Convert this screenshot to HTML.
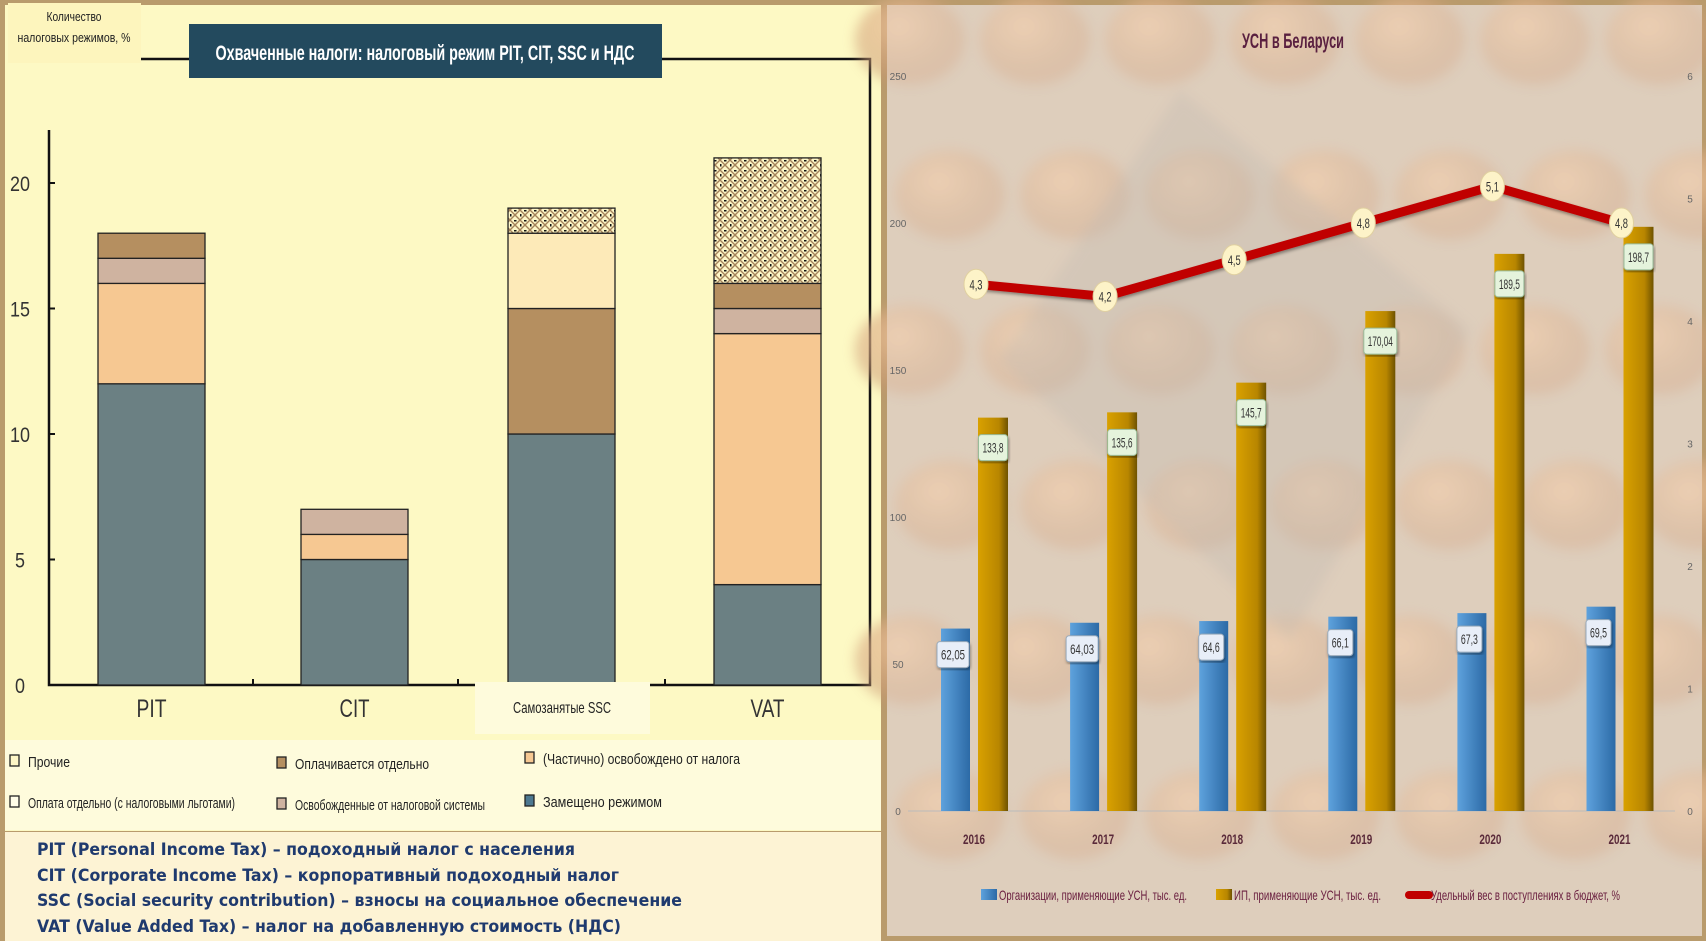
<!DOCTYPE html>
<html><head><meta charset="utf-8"><style>
html,body{margin:0;padding:0;width:1706px;height:941px;overflow:hidden;background:#b99b6c}
svg{display:block}
text{font-family:"Liberation Sans Narrow","Liberation Sans","Noto Sans CJK SC",sans-serif}
.bt{font-family:"DejaVu Sans","Liberation Sans",sans-serif;font-weight:bold;font-size:16.5px;fill:#1f3a6e}
</style></head><body>
<svg id="root" width="1706" height="941" viewBox="0 0 1706 941" xmlns="http://www.w3.org/2000/svg">
<defs>
<pattern id="hatch" width="10" height="10" patternUnits="userSpaceOnUse">
<rect width="10" height="10" fill="#fdf6c6"/>
<path d="M0 0L10 10M10 0L0 10" stroke="#a4825a" stroke-width="1.4"/>
<rect x="4" y="-1" width="2.5" height="2.5" fill="#111"/><rect x="-1" y="4" width="2.5" height="2.5" fill="#111"/>
</pattern>
<radialGradient id="bead" cx="0.4" cy="0.35" r="0.6"><stop offset="0" stop-color="#efc49a"/><stop offset="1" stop-color="#c79570" stop-opacity="0.6"/></radialGradient>
<linearGradient id="blueG" x1="0" x2="1"><stop offset="0" stop-color="#5ea2dd"/><stop offset="1" stop-color="#2c6aa6"/></linearGradient>
<linearGradient id="goldG" x1="0" x2="1"><stop offset="0" stop-color="#d9a100"/><stop offset="0.7" stop-color="#b88600"/><stop offset="1" stop-color="#6e5200"/></linearGradient>
<filter id="sh"><feDropShadow dx="1" dy="2" stdDeviation="1.5" flood-opacity="0.4"/></filter>
<filter id="blur"><feGaussianBlur stdDeviation="6"/></filter>
</defs>

<g>
<rect x="5" y="5" width="876" height="826" fill="#fdf9c4"/>
<rect x="5" y="740" width="876" height="90" fill="#fefbdc"/>
<rect x="5" y="832" width="876" height="109" fill="#fdf3d4"/>
</g>
<g id="leftChart"></g>

<g>
<rect x="887" y="5" width="815" height="931" fill="#d3c0ab"/>
<g filter="url(#blur)" opacity="0.8" id="beads"></g>
<path d="M1000 360 L1180 90 L1470 330 L1290 640 Z" fill="#a9a39b" opacity="0.35" filter="url(#blur)"/>
<rect x="887" y="5" width="815" height="931" fill="#f3e9dc" opacity="0.35"/>
</g>
<g id="rightChart"></g>

<g>
<text class="bt fn" x="37" y="855">PIT (Personal Income Tax) – подоходный налог с населения</text>
<text class="bt fn" x="37" y="881">CIT (Corporate Income Tax) – корпоративный подоходный налог</text>
<text class="bt fn" x="37" y="906">SSC (Social security contribution) – взносы на социальное обеспечение</text>
<text class="bt fn" x="37" y="932">VAT (Value Added Tax) – налог на добавленную стоимость (НДС)</text>
</g>
</svg>
<script>
const NS="http://www.w3.org/2000/svg";
function mk(p,tag,at,txt){const e=document.createElementNS(NS,tag);for(const k in at)e.setAttribute(k,at[k]);if(txt!==undefined)e.textContent=txt;p.appendChild(e);return e;}
function fit(el,w){el.setAttribute('textLength',w);el.setAttribute('lengthAdjust','spacingAndGlyphs');}

// ===== LEFT CHART DATA =====
const taxCats=["PIT","CIT","SSC","VAT"];
const segReplaced=[12,5,10,4];
const segExempt=[4,1,0,10];
const segExemptSystem=[1,1,0,1];
const segPaidSep=[1,0,5,1];
const segPaidBenefit=[0,0,3,0];
const segOther=[0,0,1,5];
const leftTicks=[0,5,10,15,20];

const L=document.getElementById('leftChart');
const ly=v=>685-v*25.1;
const lx=i=>[98,301,508,714][i];
const bw=107;
let e=mk(L,'path',{d:'M49 130 L49 685 L870 685 L870 59 L141 59',fill:'none',stroke:'#111','stroke-width':2.5});

leftTicks.forEach(t=>{
 e=mk(L,'text',{x:20,y:ly(t)+8,'font-size':21,fill:'#333','text-anchor':'middle'},String(t));
 
 fit(e,t>=10?20:10);
 mk(L,'line',{x1:49,x2:55,y1:ly(t),y2:ly(t),stroke:'#111','stroke-width':2});
});
[253,458,665].forEach(x=>mk(L,'line',{x1:x,x2:x,y1:679,y2:685,stroke:'#111','stroke-width':2}));
const segs=[[segReplaced,'#6b8083'],[segExempt,'#f6c892'],[segExemptSystem,'#cfb3a0'],[segPaidSep,'#b58f60'],[segPaidBenefit,'#fdeab8'],[segOther,'url(#hatch)']];
const segNames=['replaced','exempt','exempt-system','paid-separately','paid-with-benefits','other'];
taxCats.forEach((c,i)=>{
 let acc=0;
 segs.forEach(([arr,col],k)=>{
  const v=arr[i]; if(!v)return;
  e=mk(L,'rect',{x:lx(i),y:ly(acc+v),width:bw,height:ly(acc)-ly(acc+v),fill:col,stroke:'#222','stroke-width':1.3});
  
  acc+=v;
 });
 if(c!=="SSC"){e=mk(L,'text',{x:lx(i)+bw/2,y:717,'font-size':25,fill:'#333','text-anchor':'middle'},c);
 fit(e,c==="VAT"?34:30);}
});
e=mk(L,'rect',{x:475,y:682,width:175,height:52,fill:'#fefbdc'});
e=mk(L,'text',{x:562,y:713,'font-size':16,fill:'#222','text-anchor':'middle'},'Самозанятые SSC');
fit(e,98);
e=mk(L,'rect',{x:189,y:24,width:473,height:54,fill:'#234a5e'});

e=mk(L,'text',{x:425,y:60,'font-size':21,'font-weight':'bold',fill:'#fff','text-anchor':'middle'},'Охваченные налоги: налоговый режим PIT, CIT, SSC и НДС');
fit(e,419);
e=mk(L,'rect',{x:8,y:3,width:133,height:60,fill:'#fdf5bd'});
e=mk(L,'text',{x:74,y:21,'font-size':13,fill:'#222','text-anchor':'middle'},'Количество');
fit(e,55);
e=mk(L,'text',{x:74,y:42,'font-size':13,fill:'#222','text-anchor':'middle'},'налоговых режимов, %');fit(e,113);
const legItems=[['Прочие',10,767,'#fdf6c6',42],['Оплачивается отдельно',277,769,'#b58f60',134],['(Частично) освобождено от налога',525,764,'#f6c892',197],
['Оплата отдельно (с налоговыми льготами)',10,808,'#fffde8',207],['Освобожденные от налоговой системы',277,810,'#cfb3a0',190],['Замещено режимом',525,807,'#4d7890',119]];
legItems.forEach(([t,x,y,c,w])=>{
 e=mk(L,'g',{});
 
 mk(e,'rect',{x:x,y:y-12,width:9,height:11,fill:c,stroke:'#222','stroke-width':1.3});
 const tx=mk(e,'text',{x:x+18,y:y,'font-size':15,fill:'#222'},t);fit(tx,w);
});

const B=document.getElementById('beads');
for(let r=0;r<6;r++)for(let c=0;c<7;c++){
 const cx=910+c*125+(r%2)*40, cy=40+r*155;
 mk(B,'ellipse',{cx:cx,cy:cy,rx:55,ry:45,fill:'url(#bead)'});
}

// ===== RIGHT CHART DATA =====
const years=["2016","2017","2018","2019","2020","2021"];
const orgs=[62.05,64.03,64.6,66.1,67.3,69.5];
const ips=[133.8,135.6,145.7,170.04,189.5,198.7];
const share=[4.3,4.2,4.5,4.8,5.1,4.8];
const leftAxisTicks=[0,50,100,150,200,250];
const rightAxisTicks=[0,1,2,3,4,5,6];
const fmt=v=>String(v).replace('.',',');

const R=document.getElementById('rightChart');
const y0=811, yTop=76;
const ry=v=>y0-v/250*(y0-yTop);
const ry2=v=>y0-v/6*(y0-yTop);
const cx=i=>974+i*129.1;
leftAxisTicks.forEach(t=>{e=mk(R,'text',{x:898,y:ry(t)+4,'font-size':10,fill:'#666','text-anchor':'middle'},String(t));
 });
rightAxisTicks.forEach(t=>{e=mk(R,'text',{x:1690,y:ry2(t)+4,'font-size':10,fill:'#666','text-anchor':'middle'},String(t));
 });
mk(R,'line',{x1:908,x2:1675,y1:y0,y2:y0,stroke:'#bbb','stroke-width':1});
years.forEach((yr,i)=>{
 e=mk(R,'rect',{x:cx(i)-33,y:ry(orgs[i]),width:29,height:y0-ry(orgs[i]),fill:'url(#blueG)'});
 
 e=mk(R,'rect',{x:cx(i)+4,y:ry(ips[i]),width:30,height:y0-ry(ips[i]),fill:'url(#goldG)'});
 
 e=mk(R,'text',{x:cx(i),y:844,'font-size':14,'font-weight':'bold',fill:'#5a2a3a','text-anchor':'middle'},yr);
 fit(e,22);
 const by=ry(orgs[i])+28;
 const wb=String(orgs[i]).length>4?26:19;
 e=mk(R,'rect',{x:cx(i)-21-wb/2-3,y:by-15,width:wb+6,height:26,rx:3,fill:'#e8eef8',stroke:'#9ab',filter:'url(#sh)'});
 e=mk(R,'text',{x:cx(i)-21,y:by+3,'font-size':14,fill:'#333','text-anchor':'middle'},fmt(orgs[i]));
 fit(e,wb-2);
 const gy=ry(ips[i])+32;
 const w=String(ips[i]).length>5?27:23;
 e=mk(R,'rect',{x:cx(i)+19-w/2-3,y:gy-15,width:w+6,height:26,rx:3,fill:'#e5f3dc',stroke:'#9b9',filter:'url(#sh)'});
 e=mk(R,'text',{x:cx(i)+19,y:gy+3,'font-size':14,fill:'#333','text-anchor':'middle'},fmt(ips[i]));
 fit(e,w-2);
});
const pts=share.map((v,i)=>(cx(i)+2)+','+ry2(v)).join(' ');
e=mk(R,'polyline',{points:pts,fill:'none',stroke:'#c00000','stroke-width':9,'stroke-linejoin':'round',filter:'url(#sh)'});

share.forEach((v,i)=>{
 e=mk(R,'ellipse',{cx:cx(i)+2,cy:ry2(v),rx:12,ry:15,fill:'#fdf3c8',stroke:'#e0d0a0'});
 
 const t=mk(R,'text',{x:cx(i)+2,y:ry2(v)+5,'font-size':14,fill:'#333','text-anchor':'middle'},fmt(v));fit(t,13);
});
e=mk(R,'text',{x:1293,y:48,'font-size':21,'font-weight':'bold',fill:'#5a2040','text-anchor':'middle'},'УСН в Беларуси');
fit(e,102);
const leg=[['url(#blueG)',981,'Организации, применяющие УСН, тыс. ед.',188],['url(#goldG)',1216,'ИП, применяющие УСН, тыс. ед.',147],['#c00000',1409,'Удельный вес в поступлениях в бюджет, %',189]];
leg.forEach(([c,x,t,w],k)=>{
 e=mk(R,'g',{});
 
 if(k<2)mk(e,'rect',{x:x,y:889,width:16,height:11,fill:c});
 else mk(e,'line',{x1:x,x2:x+20,y1:895,y2:895,stroke:c,'stroke-width':8,'stroke-linecap':'round'});
 const tx=mk(e,'text',{x:x+(k<2?18:22),y:900,'font-size':14,fill:'#6b2040'},t);fit(tx,w);
});
document.querySelectorAll('.fn').forEach(el=>{const l=el.getComputedTextLength();fit(el,Math.round(l*0.955));});
</script>
</body></html>
